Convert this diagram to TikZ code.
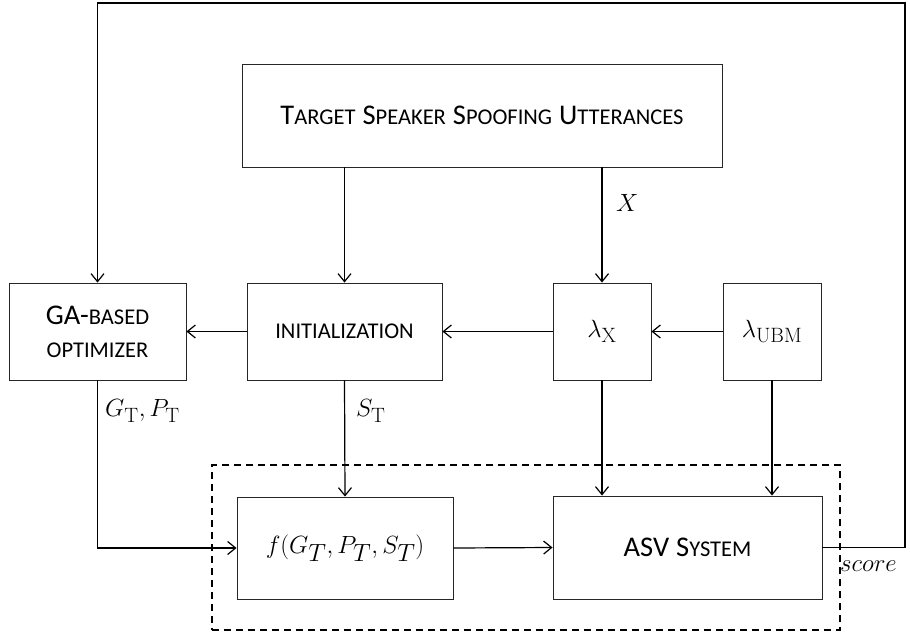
\documentclass[tikz,border=0pt]{standalone}
\usepackage[no-math]{fontspec}
\setmainfont{Carlito}
\usetikzlibrary{arrows.meta}
\newcommand\bigc[1]{{\fontsize{28.5}{34}\selectfont #1}}
\newcommand\smc[1]{{\fontsize{22.5}{27}\selectfont #1}}
\newcommand\mth[1]{{\fontsize{31}{36}\selectfont $#1$}}
\newcommand\wsp{\hspace{7pt}}
\tikzset{
  box/.style={draw=black!85, line width=0.9pt, inner sep=0pt, align=center},
  conn/.style={line width=1.2pt},
  arr/.style={conn, -{Straight Barb[length=8pt,width=13pt,line width=1.2pt]}},
  lbl/.style={inner sep=0pt}
}
\begin{document}
\begin{tikzpicture}[x=1pt,y=-1pt]
\useasboundingbox (0,0) rectangle (910,635);
% boxes
\node[box, minimum width=480pt, minimum height=103pt] (top) at (482,115.5)
  {\bigc{T}\smc{ARGET}\wsp\bigc{S}\smc{PEAKER}\wsp\bigc{S}\smc{POOFING}\wsp\bigc{U}\smc{TTERANCES}};
\node[box, minimum width=177pt, minimum height=97pt] (ga) at (97.5,331.5)
  {\bigc{GA-}\smc{BASED}\\[17pt]\smc{OPTIMIZER}};
\node[box, minimum width=195pt, minimum height=97pt] (init) at (344.5,331.5)
  {\smc{INITIALIZATION}};
\node[box, minimum width=98pt, minimum height=97pt] (lx) at (602,331.5)
  {\mth{\lambda_{\mathrm{X}}}};
\node[box, minimum width=98pt, minimum height=97pt] (lu) at (772,331.5)
  {\mth{\lambda_{\mathrm{UBM}}}};
\node[box, minimum width=216pt, minimum height=102pt] (f) at (345,548)
  {{\fontsize{33}{38}\selectfont $f(G_T,P_T,S_T)$}};
\node[box, minimum width=269pt, minimum height=103pt] (asv) at (687.5,547.5)
  {\bigc{ASV}\wsp\bigc{S}\smc{YSTEM}};
% dashed frame
\node[draw=black, line width=1.1pt, dash pattern=on 7pt off 5pt, inner sep=0pt,
  minimum width=628pt, minimum height=165pt] (frame) at (526,547.5) {};
% connectors
\draw[arr] (init.north |- top.south) -- (init.north);
\draw[arr] (lx.north |- top.south) -- (lx.north);
\draw[arr] (lx.west) -- (init.east);
\draw[arr] (lu.west) -- (lx.east);
\draw[arr] (init.west) -- (ga.east);
\draw[arr] (lx.south) -- (lx.south |- asv.north);
\draw[arr] (lu.south) -- (lu.south |- asv.north);
\draw[arr] (init.south) -- (f.north);
\draw[arr] (ga.south) |- (f.west);
\draw[arr] (f.east) -- (asv.west);
\coordinate (fbR) at (905,547.5);
\coordinate (fbT) at (905,3);
\draw[arr] (asv.east) -- (fbR) -- (fbT) -| (ga.north);
% labels
\node[lbl, anchor=west] (xl) at (616,203) {\mth{X}};
\node[lbl, anchor=west] (gpl) at (105,411) {\mth{G_{\mathrm{T}},P_{\mathrm{T}}}};
\node[lbl, anchor=west] (stl) at (356,411) {\mth{S_{\mathrm{T}}}};
\node[lbl, anchor=west] (scl) at (840,566) {\mth{score}};
\end{tikzpicture}
\end{document}
